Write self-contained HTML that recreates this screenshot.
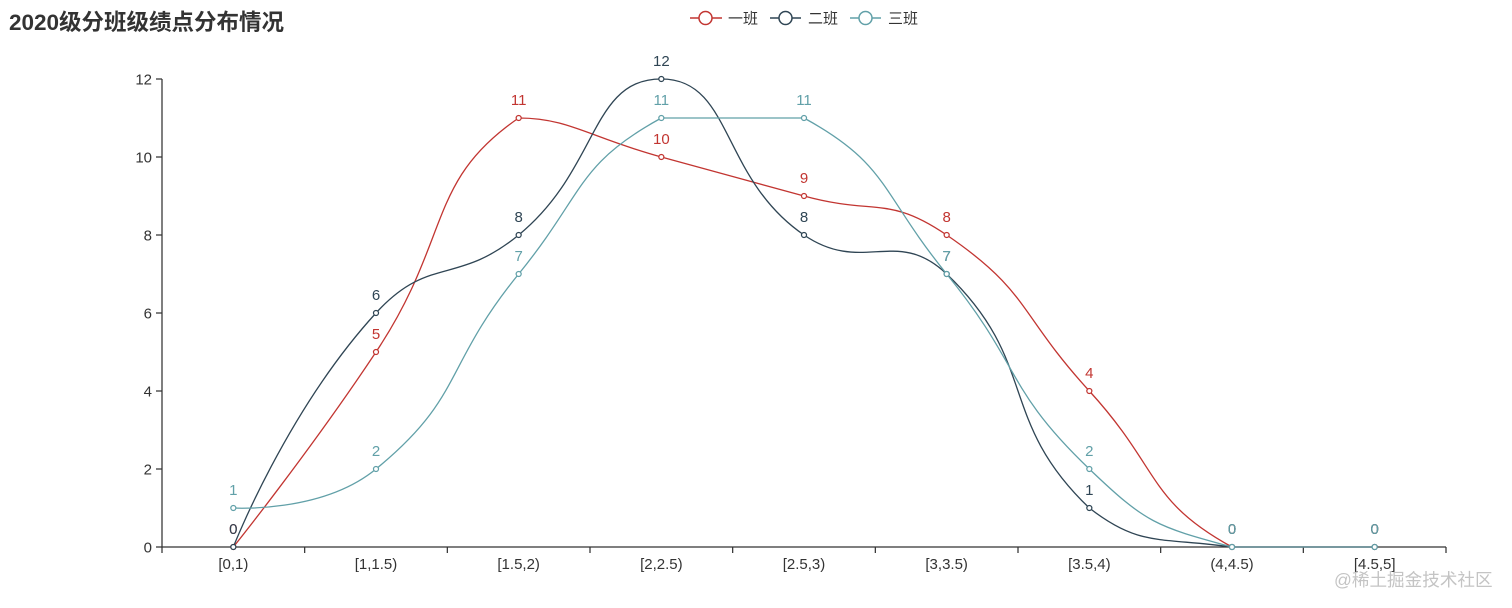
<!DOCTYPE html>
<html><head><meta charset="utf-8"><style>
html,body{margin:0;padding:0;background:#fff;width:1512px;height:608px;overflow:hidden}
svg{display:block}
text{font-family:"Liberation Sans","Noto Sans CJK SC",sans-serif}
</style></head><body>
<svg id="s" width="1512" height="608" viewBox="0 0 1512 608" xmlns="http://www.w3.org/2000/svg">
<text x="9" y="30" font-size="22.5" font-weight="bold" fill="#333" font-family="Liberation Sans,Noto Sans CJK SC,sans-serif">2020级分班级绩点分布情况</text>
<!-- legend -->
<g stroke-width="1.5" fill="#fff">
<line x1="690" y1="18" x2="722" y2="18" stroke="#c23531"/><circle cx="705.5" cy="18" r="6.5" stroke="#c23531"/>
<line x1="770" y1="18" x2="801" y2="18" stroke="#2f4554"/><circle cx="785.5" cy="18" r="6.5" stroke="#2f4554"/>
<line x1="850" y1="18" x2="881" y2="18" stroke="#61a0a8"/><circle cx="865.5" cy="18" r="6.5" stroke="#61a0a8"/>
</g>
<g font-size="15" fill="#333">
<text x="728" y="23.5">一班</text><text x="808" y="23.5">二班</text><text x="888" y="23.5">三班</text>
</g>
<g id="axes" stroke="#333" stroke-width="1.25" fill="none">
<line x1="162" y1="79" x2="162" y2="547"/>
<line x1="162" y1="547" x2="1446" y2="547"/>
</g>
<g id="ylab" font-size="15" fill="#333" text-anchor="end"></g>
<g id="xlab" font-size="15" fill="#333" text-anchor="middle"></g>
<g id="series"></g>
<g id="labels" font-size="15" text-anchor="middle"></g>
<text x="1334" y="586" font-size="17.6" fill="#c4c4c4" font-family="Liberation Sans,Noto Sans CJK SC,sans-serif">@稀土掘金技术社区</text>
</svg>
<script>
(function(){
var NS="http://www.w3.org/2000/svg";
function el(tag,attrs,parent,txt){var e=document.createElementNS(NS,tag);for(var k in attrs)e.setAttribute(k,attrs[k]);if(txt!==undefined)e.textContent=txt;parent.appendChild(e);return e;}
var axes=document.getElementById('axes'),ylab=document.getElementById('ylab'),xlab=document.getElementById('xlab');
var X0=162,W=1284,BW=W/9,Y0=547,U=39;
for(var v=0;v<=12;v+=2){var y=Y0-U*v;el('line',{x1:156,y1:y,x2:162,y2:y},axes);el('text',{x:152,y:y+5.5},ylab,String(v));}
for(var k=0;k<=9;k++){var x=X0+BW*k;el('line',{x1:x,y1:547,x2:x,y2:553},axes);}
var cats=["[0,1)","[1,1.5)","[1.5,2)","[2,2.5)","[2.5,3)","[3,3.5)","[3.5,4)","(4,4.5)","[4.5,5]"];
for(var i=0;i<9;i++){el('text',{x:X0+BW*(i+0.5),y:569},xlab,cats[i]);}
var series=[
 {c:"#c23531",d:[0,5,11,10,9,8,4,0,0]},
 {c:"#2f4554",d:[0,6,8,12,8,7,1,0,0]},
 {c:"#61a0a8",d:[1,2,7,11,11,7,2,0,0]}
];
var sg=document.getElementById('series'),lg=document.getElementById('labels');
function dist(a,b){return Math.sqrt((a[0]-b[0])*(a[0]-b[0])+(a[1]-b[1])*(a[1]-b[1]));}
function smoothPath(pts,s){
 var mn=[Infinity,Infinity],mx=[-Infinity,-Infinity];
 pts.forEach(function(p){mn[0]=Math.min(mn[0],p[0]);mn[1]=Math.min(mn[1],p[1]);mx[0]=Math.max(mx[0],p[0]);mx[1]=Math.max(mx[1],p[1]);});
 function cl(p){return [Math.max(mn[0],Math.min(mx[0],p[0])),Math.max(mn[1],Math.min(mx[1],p[1]))];}
 var d="M"+pts[0][0].toFixed(2)+","+pts[0][1].toFixed(2);
 var cp0=pts[0].slice(),v=[0,0];
 for(var i=1;i<pts.length;i++){
  var p=pts[i],prev=pts[i-1],next=pts[i+1],cp1,ratio=0.5;
  if(!next){cp1=p.slice();}
  else{
   v=[next[0]-prev[0],next[1]-prev[1]];
   var lp=dist(p,prev),ln=dist(p,next);
   ratio=ln/(ln+lp);
   cp1=[p[0]-v[0]*s*(1-ratio),p[1]-v[1]*s*(1-ratio)];
  }
  cp0=cl(cp0);cp1=cl(cp1);
  d+=" C"+cp0[0].toFixed(2)+","+cp0[1].toFixed(2)+" "+cp1[0].toFixed(2)+","+cp1[1].toFixed(2)+" "+p[0].toFixed(2)+","+p[1].toFixed(2);
  cp0=[p[0]+v[0]*s*ratio,p[1]+v[1]*s*ratio];
 }
 return d;
}
series.forEach(function(se){
 var pts=se.d.map(function(v,i){return [X0+BW*(i+0.5),Y0-U*v];});
 el('path',{d:smoothPath(pts,0.5),fill:"none",stroke:se.c,"stroke-width":1.3},sg);
 pts.forEach(function(p){el('circle',{cx:p[0],cy:p[1],r:2.5,fill:"#fff",stroke:se.c,"stroke-width":1.25},sg);});
 pts.forEach(function(p,i){el('text',{x:p[0],y:p[1]-13,fill:se.c},lg,String(se.d[i]));});
});
})();
</script>
</body></html>
